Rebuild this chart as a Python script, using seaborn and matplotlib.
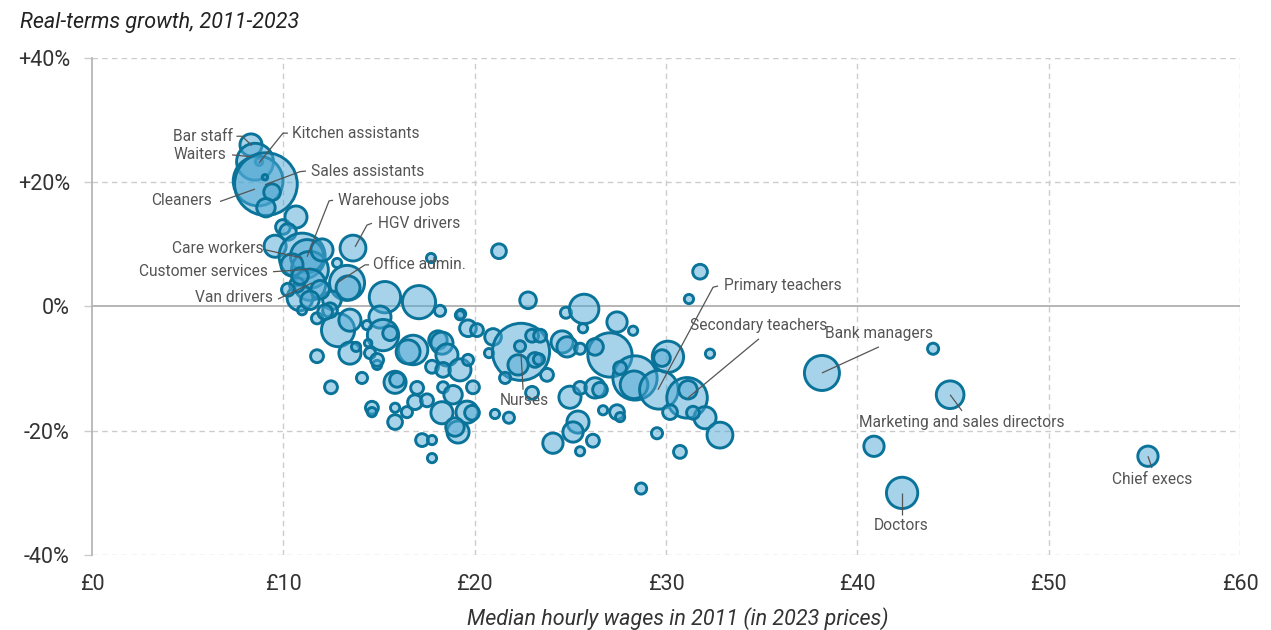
import numpy as np
import pandas as pd
import matplotlib
matplotlib.use("Agg")
import matplotlib.pyplot as plt
import seaborn as sns

# median hourly wage 2011 (in 2023 prices, £)
wage = [8.31, 8.52, 8.73, 8.68, 9.09, 9.41, 9.09, 9.04, 9.98, 10.66,
        10.24, 9.57, 10.98, 11.24, 11.39, 13.64, 12.81, 13.33, 11.39, 10.87,
        10.98, 11.76, 12.54, 13.38, 15.31, 17.09, 18.19, 19.29, 19.65, 20.12,
        12.86, 13.48, 15.05, 15.21, 14.37, 15.58, 16.78, 16.52, 13.48, 13.80,
        14.43, 14.53, 14.90, 14.90, 11.76, 12.49, 14.11, 15.84, 15.94, 14.63,
        14.63, 15.84, 15.84, 16.46, 16.99, 16.88, 17.51, 18.08, 18.29, 18.55,
        17.77, 18.35, 19.23, 19.65, 19.91, 18.35, 18.87, 18.29, 19.60, 19.86,
        19.13, 18.97, 17.25, 17.77, 17.77, 17.72, 12.02, 10.45, 11.92, 10.71,
        12.44, 10.24, 10.87, 11.39, 12.18,
        21.27, 22.79, 24.77, 25.72, 25.66, 27.44, 28.28, 27.07, 28.38, 19.23,
        20.96, 20.75, 22.42, 22.37, 23.00, 23.42, 22.27, 23.15, 23.36, 23.78,
        21.59, 23.00, 24.57, 24.83, 25.51, 26.29, 24.98, 25.51, 26.29, 26.55,
        26.71, 25.40, 25.14, 24.09, 26.18, 25.51, 27.44, 27.60, 21.06, 21.79,
        28.70, 27.60, 28.33, 29.63, 30.10, 29.79, 31.10, 31.15, 32.04, 32.82,
        31.41, 30.21, 32.30, 31.20, 31.78, 29.53, 30.73,
        38.15, 43.96, 44.85, 40.87, 42.34, 55.19]

# real-terms growth 2011-2023 (%)
growth = [26.0, 23.3, 23.3, 20.2, 19.7, 18.4, 15.9, 20.8, 12.8, 14.4,
          12.0, 9.7, 8.1, 8.1, 5.9, 9.4, 7.0, 3.8, 3.5, 1.4,
          -0.6, -1.9, 1.0, 3.0, 1.5, 0.7, -0.7, -1.2, -3.5, -3.8,
          -3.8, -2.2, -1.7, -4.6, -3.0, -4.3, -7.0, -7.3, -7.5, -6.5,
          -5.9, -7.5, -9.4, -8.6, -8.0, -13.0, -11.5, -12.2, -11.8, -16.3,
          -17.0, -16.3, -18.6, -17.0, -13.1, -15.4, -15.1, -5.4, -5.9, -7.8,
          -9.7, -10.2, -10.2, -8.6, -13.0, -13.0, -14.2, -17.1, -17.0, -17.1,
          -20.2, -19.4, -21.5, -21.5, -24.4, 7.8, 9.1, 6.7, 2.7, 3.5,
          -0.6, 2.7, 4.9, 1.0, -0.9,
          8.9, 1.0, -1.0, -0.4, -3.5, -2.5, -3.9, -7.8, -11.5, -1.4,
          -4.9, -7.5, -7.3, -6.4, -4.7, -4.7, -9.4, -8.6, -8.5, -11.0,
          -11.5, -13.9, -5.7, -6.5, -6.8, -6.5, -14.6, -13.1, -13.1, -13.4,
          -16.7, -18.6, -20.2, -22.0, -21.6, -23.3, -17.0, -17.8, -17.3, -17.9,
          -29.3, -9.9, -12.6, -13.4, -8.1, -8.3, -14.7, -13.4, -17.9, -20.7,
          -17.1, -17.0, -7.6, 1.2, 5.6, -20.4, -23.4,
          -10.7, -6.8, -14.2, -22.5, -30.0, -24.1]

# employment (thousands)
jobs = [115, 320, 13, 583, 925, 65, 80, 7, 51, 115,
        65, 115, 500, 259, 320, 157, 20, 289, 231, 157,
        20, 29, 80, 135, 231, 259, 29, 20, 65, 39,
        259, 115, 115, 231, 20, 51, 205, 135, 115, 20,
        13, 29, 20, 39, 39, 39, 29, 115, 51, 39,
        20, 20, 51, 29, 39, 51, 39, 80, 115, 115,
        39, 51, 115, 29, 39, 29, 80, 115, 115, 51,
        115, 80, 39, 20, 20, 20, 115, 115, 80, 51,
        51, 39, 65, 80, 51,
        51, 65, 29, 205, 20, 97, 20, 461, 461, 20,
        65, 20, 769, 29, 39, 39, 97, 51, 29, 39,
        29, 39, 115, 97, 29, 65, 115, 39, 97, 51,
        20, 115, 97, 97, 39, 20, 51, 20, 20, 29,
        29, 39, 180, 353, 231, 65, 387, 80, 115, 157,
        39, 51, 20, 20, 51, 29, 39,
        289, 29, 180, 97, 231, 97]

# labelled occupations: text, text position, alignment, leader line (x, y)
labels = [
    ("Bar staff", 7.37, 27.4, "right", [7.55, 7.85, 8.35], [27.4, 27.4, 25.9]),
    ("Waiters", 7.0, 24.4, "right", [7.32, 8.36], [24.4, 24.1]),
    ("Kitchen assistants", 10.45, 27.9, "left", [10.24, 9.98, 8.73], [27.9, 27.9, 23.1]),
    ("Sales assistants", 11.45, 21.8, "left", [11.18, 10.87, 9.04], [21.8, 21.7, 19.6]),
    ("Cleaners", 6.27, 17.1, "right", [6.69, 8.52], [16.9, 18.9]),
    ("Warehouse jobs", 12.86, 17.1, "left", [12.6, 12.39, 11.24], [17.1, 17.0, 8.0]),
    ("HGV drivers", 14.95, 13.4, "left", [14.63, 14.37, 13.75], [13.4, 13.1, 9.6]),
    ("Care workers", 8.94, 9.3, "right", [9.09, 10.98], [9.1, 7.8]),
    ("Office admin.", 14.69, 6.7, "left", [14.48, 14.27, 12.81], [6.7, 6.7, 3.8]),
    ("Customer services", 9.2, 5.7, "right", [9.46, 11.39], [5.6, 6.0]),
    ("Van drivers", 9.46, 1.4, "right", [9.72, 9.93, 11.5], [1.2, 1.5, 3.8]),
    ("Nurses", 22.58, -15.2, "center", [22.53, 22.42], [-13.4, -7.6]),
    ("Primary teachers", 33.03, 3.3, "left", [32.72, 32.46, 29.58], [3.3, 3.1, -13.4]),
    ("Secondary teachers", 34.86, -3.1, "center", [34.86, 31.15], [-5.2, -14.7]),
    ("Bank managers", 41.13, -4.3, "center", [41.13, 38.15], [-6.5, -10.7]),
    ("Marketing and sales directors", 45.47, -18.6, "center", [45.47, 44.85], [-16.8, -14.2]),
    ("Doctors", 42.28, -35.3, "center", [42.34, 42.34], [-33.6, -30.0]),
    ("Chief execs", 55.4, -27.8, "center", [55.4, 55.19], [-26.0, -24.1]),
]

df = pd.DataFrame({"wage": wage, "growth": growth, "jobs": jobs})

sns.set_style("white")
plt.rcParams['font.family'] = ['Roboto', 'DejaVu Sans']

fig = plt.figure(figsize=(12.71, 6.30), dpi=100)
ax = fig.add_axes([0.0724, 0.119, 0.9032, 0.789])

# light grid
for gx in range(10, 61, 10):
    ax.axvline(gx, color="#cccccc", lw=1, ls=(0, (4, 3)), zorder=0)
for gy in [-40, -20, 20, 40]:
    ax.axhline(gy, color="#cccccc", lw=1, ls=(0, (4, 3)), zorder=0)
ax.axhline(0, color="#b0b0b0", lw=1.3, zorder=0)

smax = df["jobs"].max()
sns.scatterplot(data=df, x="wage", y="growth", size="jobs",
                sizes=(0, 2.2 * smax), size_norm=(0, smax), legend=False,
                facecolor=(0.31, 0.66, 0.83, 0.5), edgecolor="#0a7399",
                linewidth=2.1, ax=ax, zorder=3)

# annotations
for name, tx, ty, ha, lx, ly in labels:
    ax.plot(lx, ly, color="#555555", lw=0.9, zorder=4, solid_capstyle="butt")
    ax.text(tx, ty, name, ha=ha, va="center", fontsize=11.2, color="#555555", zorder=5)

ax.set_xlim(0, 60)
ax.set_ylim(-40, 40)
ax.set_xticks(range(0, 61, 10))
ax.set_xticklabels(["£{}".format(v) for v in range(0, 61, 10)])
ax.set_yticks([-40, -20, 0, 20, 40])
ax.set_yticklabels(["-40%", "-20%", "0%", "+20%", "+40%"])
ax.tick_params(axis="x", length=0, pad=14, labelsize=15.5, labelcolor="#333333")
ax.tick_params(axis="y", length=6, width=1, color="#cccccc", pad=10,
               labelsize=15.5, labelcolor="#333333", left=True)
ax.set_xlabel("")
ax.set_ylabel("")

for s in ["top", "right", "bottom"]:
    ax.spines[s].set_visible(False)
ax.spines["left"].set_color("#b0b0b0")
ax.spines["left"].set_linewidth(1.2)

fig.text(0.0157, 0.965, "Real-terms growth, 2011-2023", ha="left", va="center",
         fontsize=15.5, style="italic", color="#222222")
fig.text(0.533, 0.019, "Median hourly wages in 2011 (in 2023 prices)", ha="center",
         va="center", fontsize=15.5, style="italic", color="#333333")

fig.savefig("out.png", dpi=100)
